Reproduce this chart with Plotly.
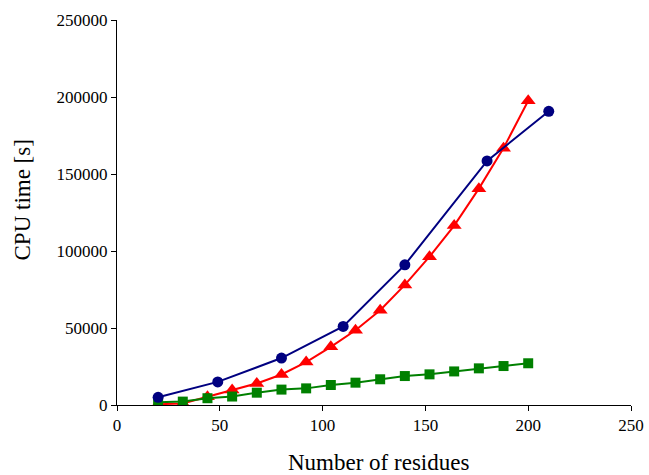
import plotly.graph_objects as go

blue_x = [20, 49, 80, 110, 140, 180, 210]
blue_y = [5000, 15000, 30500, 51000, 91000, 158500, 190700]

red_x = [20, 32, 44, 56, 68, 80, 92, 104, 116, 128, 140, 152, 164, 176, 188, 200]
red_y = [500, 1000, 5400, 9700, 14000, 19800, 27900, 37800, 48500, 61500, 78000, 96300, 116500, 140500, 166800, 197600]

green_x = [20, 32, 44, 56, 68, 80, 92, 104, 116, 128, 140, 152, 164, 176, 188, 200]
green_y = [1800, 2200, 4400, 5500, 8000, 10000, 10800, 13000, 14500, 16700, 18800, 19900, 21800, 23800, 25300, 27100]

x_ticks = [0, 50, 100, 150, 200, 250]
y_ticks = [0, 50000, 100000, 150000, 200000, 250000]

x_title = "Number of residues"
y_title = "CPU time [s]"

fig = go.Figure()
fig.add_trace(go.Scatter(x=red_x, y=red_y, mode="lines+markers",
                         line=dict(color="#FF0000", width=2),
                         marker=dict(symbol="triangle-up", size=13, color="#FF0000")))
fig.add_trace(go.Scatter(x=green_x, y=green_y, mode="lines+markers",
                         line=dict(color="#008000", width=2),
                         marker=dict(symbol="square", size=10, color="#008000")))
fig.add_trace(go.Scatter(x=blue_x, y=blue_y, mode="lines+markers",
                         line=dict(color="#000080", width=2),
                         marker=dict(symbol="circle", size=11, color="#000080")))

font = "Liberation Serif, Times New Roman, serif"
fig.update_layout(
    width=649, height=475,
    margin=dict(l=117, r=18, t=20, b=70, autoexpand=False),
    paper_bgcolor="white", plot_bgcolor="white",
    showlegend=False,
    font=dict(family=font, color="black", size=17),
)
fig.update_xaxes(range=[0, 250], tickvals=x_ticks, ticktext=[str(v) for v in x_ticks],
                 showgrid=False, zeroline=False, showline=True, linecolor="black", linewidth=1,
                 ticks="outside", ticklen=5, tickcolor="black", automargin=False)
fig.update_yaxes(range=[0, 250000], tickvals=y_ticks, ticktext=[str(v) for v in y_ticks],
                 showgrid=False, zeroline=False, showline=True, linecolor="black", linewidth=1,
                 ticks="outside", ticklen=5, tickcolor="black", automargin=False)

fig.add_annotation(text=x_title, xref="paper", yref="paper", x=0.5, y=-0.1,
                   xanchor="center", yanchor="middle", xshift=4, yshift=-19,
                   showarrow=False, font=dict(size=23, family=font, color="black"))
fig.add_annotation(text=y_title, xref="paper", yref="paper", x=0, y=0.5,
                   xanchor="center", yanchor="middle", xshift=-95, yshift=12, textangle=-90,
                   showarrow=False, font=dict(size=23, family=font, color="black"))

fig.write_html("out.html")
